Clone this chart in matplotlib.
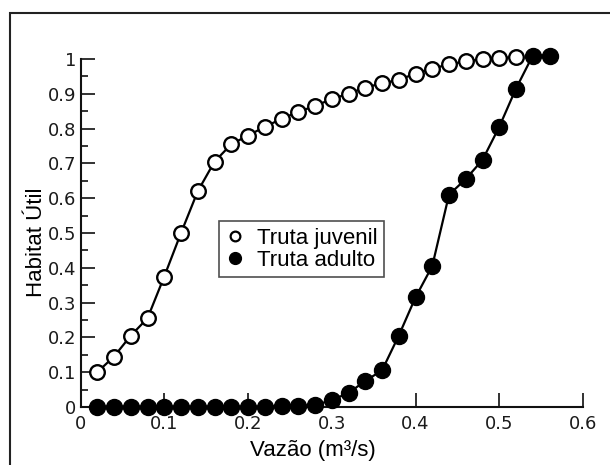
import numpy as np
import matplotlib
matplotlib.use("Agg")
import matplotlib.pyplot as plt
from matplotlib.lines import Line2D
from matplotlib.patches import Rectangle
from matplotlib.ticker import MultipleLocator, FuncFormatter

# vazao (m3/s) and habitat util
x_juvenil = [0.02, 0.04, 0.06, 0.08, 0.10, 0.12, 0.14, 0.16, 0.18, 0.20,
             0.22, 0.24, 0.26, 0.28, 0.30, 0.32, 0.34, 0.36, 0.38, 0.40,
             0.42, 0.44, 0.46, 0.48, 0.50, 0.52]
y_juvenil = [0.10, 0.145, 0.205, 0.255, 0.375, 0.50, 0.62, 0.705, 0.755, 0.78,
             0.805, 0.828, 0.848, 0.865, 0.885, 0.90, 0.918, 0.93, 0.94, 0.958,
             0.972, 0.985, 0.993, 1.0, 1.003, 1.005]

x_adulto = [0.02, 0.04, 0.06, 0.08, 0.10, 0.12, 0.14, 0.16, 0.18, 0.20,
            0.22, 0.24, 0.26, 0.28, 0.30, 0.32, 0.34, 0.36, 0.38, 0.40,
            0.42, 0.44, 0.46, 0.48, 0.50, 0.52, 0.54, 0.56]
y_adulto = [0.0, 0.0, 0.0, 0.0, 0.0, 0.0, 0.0, 0.0, 0.0, 0.0,
            0.0, 0.003, 0.003, 0.005, 0.02, 0.04, 0.075, 0.105, 0.205, 0.315,
            0.405, 0.61, 0.655, 0.71, 0.805, 0.915, 1.01, 1.01]

labels = ['Truta juvenil', 'Truta adulto']
xlabel = 'Vazão (m³/s)'
ylabel = 'Habitat Útil'

fig = plt.figure(figsize=(6.1, 4.65), dpi=100)
ax = fig.add_axes([80.5/610, 1 - 407/465, 502.5/610, 348/465])

# outer frame, cut off at right and bottom like the original
fig.patches.append(Rectangle((10/610, -0.2), 1.2, 1.2 - 13/465,
                             transform=fig.transFigure, fill=False,
                             edgecolor='#222222', linewidth=1.5, clip_on=False))

ax.plot(x_adulto, y_adulto, color='black', linewidth=1.6, marker='o',
        markersize=11.5, markerfacecolor='black', markeredgecolor='black',
        clip_on=False, zorder=3)
ax.plot(x_juvenil, y_juvenil, color='black', linewidth=1.6, marker='o',
        markersize=10.5, markerfacecolor='white', markeredgecolor='black',
        markeredgewidth=1.7, clip_on=False, zorder=4)

ax.set_xlim(0, 0.6)
ax.set_ylim(0, 1.0)
ax.spines['top'].set_visible(False)
ax.spines['right'].set_visible(False)
for s in ['left', 'bottom']:
    ax.spines[s].set_linewidth(1.5)
    ax.spines[s].set_color('#111111')

ax.xaxis.set_major_locator(MultipleLocator(0.1))
ax.yaxis.set_major_locator(MultipleLocator(0.1))
ax.yaxis.set_minor_locator(MultipleLocator(0.05))
fmt = FuncFormatter(lambda v, p: '%g' % round(v, 2))
ax.xaxis.set_major_formatter(fmt)
ax.yaxis.set_major_formatter(fmt)
ax.tick_params(axis='both', which='major', direction='in', length=10,
               width=1.3, color='#222222', labelsize=13,
               labelcolor='#1a1a1a')
ax.tick_params(axis='y', which='minor', direction='in', length=5,
               width=1.3, color='#222222')
ax.tick_params(axis='x', which='major', pad=6)
ax.tick_params(axis='y', which='major', pad=3)

ax.set_xlabel(xlabel, fontsize=16, family='Liberation Sans')
ax.xaxis.set_label_coords(0.463, -0.125)
ax.xaxis.label.set_va('center')
ax.set_ylabel(ylabel, fontsize=16, family='Liberation Sans')
ax.yaxis.set_label_coords(-0.087, 0.474)
ax.yaxis.label.set_va('center')

handles = [Line2D([], [], linestyle='none', marker='o', markersize=7,
                  markerfacecolor='white', markeredgecolor='black',
                  markeredgewidth=1.6),
           Line2D([], [], linestyle='none', marker='o', markersize=8.5,
                  markerfacecolor='black', markeredgecolor='black')]
leg = fig.legend(handles, labels, loc='upper left',
                 bbox_to_anchor=(219/610, 1 - 221/465),
                 bbox_transform=fig.transFigure, borderaxespad=0,
                 prop={'family': 'Liberation Sans', 'size': 16},
                 frameon=True, fancybox=False, borderpad=0.3,
                 handlelength=0.8, handletextpad=0.6, labelspacing=0.05)
leg.get_frame().set_edgecolor('#222222')
leg.get_frame().set_linewidth(1.2)

fig.savefig('out.png', dpi=100)
